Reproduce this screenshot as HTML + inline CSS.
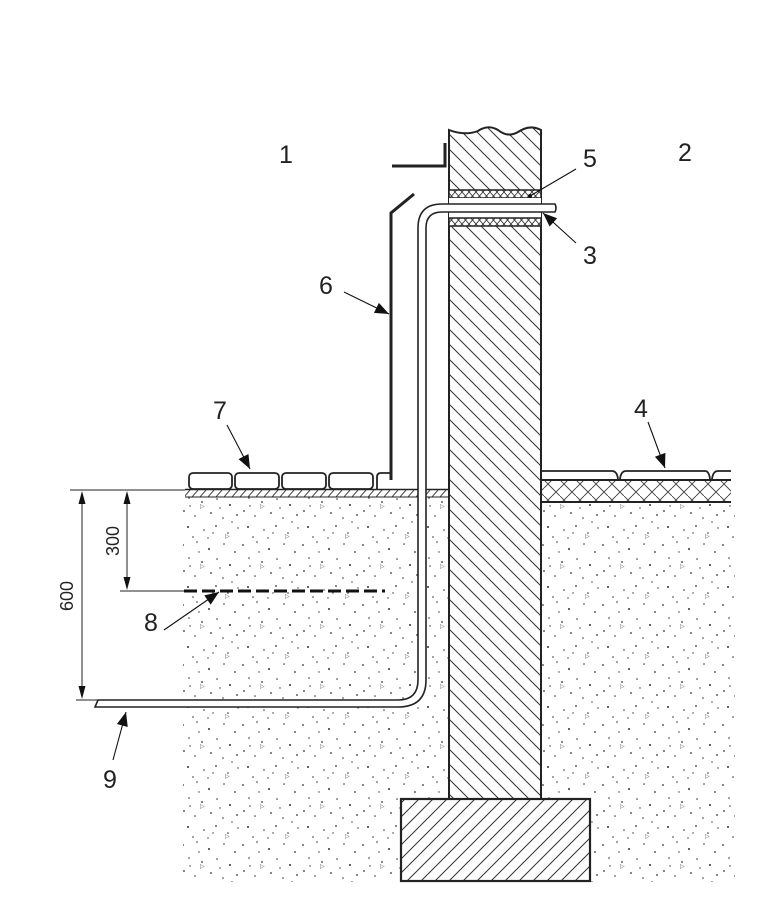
<!DOCTYPE html>
<html><head><meta charset="utf-8"><style>
html,body{margin:0;padding:0;background:#fff;}
svg{display:block;}
text{font-family:"Liberation Sans",sans-serif;fill:#222;}
</style></head><body>
<svg width="780" height="897" viewBox="0 0 780 897" xmlns="http://www.w3.org/2000/svg">
<defs>
<pattern id="wallh" width="15" height="15" patternUnits="userSpaceOnUse">
<path d="M-2,-2 L17,17 M-2,13 L2,17 M13,-2 L17,2" stroke="#333" stroke-width="1"/>
</pattern>
<pattern id="foot" width="14" height="14" patternUnits="userSpaceOnUse">
<path d="M-2,16 L16,-2 M-2,2 L2,-2 M12,16 L16,12" stroke="#333" stroke-width="1"/>
</pattern>
<pattern id="band" width="7" height="8" patternUnits="userSpaceOnUse">
<path d="M0,0 L7,8 M7,0 L0,8" stroke="#333" stroke-width="0.9"/>
</pattern>
<pattern id="grav" width="8" height="7" patternUnits="userSpaceOnUse">
<path d="M0,7 L6,0" stroke="#444" stroke-width="1"/>
</pattern>
<pattern id="herr" width="16" height="16" patternUnits="userSpaceOnUse">
<path d="M0,8 L8,0 M8,16 L16,8 M0,0 L8,8 M8,8 L16,16" stroke="#444" stroke-width="0.9"/>
</pattern>
<pattern id="soil" width="60" height="60" patternUnits="userSpaceOnUse">
<g fill="#333">
<circle cx="3" cy="5" r="0.9"/><circle cx="17" cy="2" r="0.8"/><circle cx="29" cy="9" r="1"/><circle cx="44" cy="4" r="0.8"/><circle cx="55" cy="12" r="0.9"/>
<circle cx="9" cy="18" r="0.8"/><circle cx="22" cy="22" r="0.9"/><circle cx="37" cy="19" r="0.8"/><circle cx="50" cy="25" r="1"/>
<circle cx="4" cy="31" r="0.9"/><circle cx="15" cy="36" r="0.8"/><circle cx="31" cy="33" r="0.9"/><circle cx="43" cy="38" r="0.8"/><circle cx="57" cy="35" r="0.9"/>
<circle cx="8" cy="47" r="1"/><circle cx="24" cy="50" r="0.8"/><circle cx="36" cy="46" r="0.9"/><circle cx="48" cy="53" r="0.8"/><circle cx="58" cy="48" r="0.7"/>
<circle cx="13" cy="57" r="0.8"/><circle cx="28" cy="58" r="0.7"/><circle cx="40" cy="28" r="0.7"/><circle cx="19" cy="12" r="0.7"/>
<circle cx="33" cy="53" r="0.7"/><circle cx="52" cy="42" r="0.7"/><circle cx="10" cy="26" r="0.7"/>
</g>
<text x="20" y="28" font-size="6" style="fill:#555">▷</text>
<text x="45" y="58" font-size="6" style="fill:#555">▷</text>
</pattern>
<marker id="ab" viewBox="0 0 10 10" refX="10" refY="5" markerWidth="16" markerHeight="14" orient="auto" markerUnits="userSpaceOnUse"><path d="M0,1 L10,5 L0,9 z" fill="#111"/></marker>
</defs>

<rect x="183" y="497" width="266" height="385" fill="url(#soil)"/>
<rect x="541" y="502" width="194" height="380" fill="url(#soil)"/>
<rect x="185" y="490" width="264" height="7" fill="url(#grav)"/>
<line x1="185" y1="489.5" x2="449" y2="489.5" stroke="#222" stroke-width="1.5"/>
<line x1="185" y1="497" x2="449" y2="497" stroke="#222" stroke-width="1"/>
<g fill="#fff" stroke="#222" stroke-width="1.8">
<rect x="189" y="473" width="43" height="16" rx="4"/>
<rect x="235" y="473" width="44" height="16" rx="4"/>
<rect x="282" y="473" width="44" height="16" rx="4"/>
<rect x="329" y="473" width="44" height="16" rx="4"/>
<path d="M392,473 L381,473 Q377,473 377,477 L377,489"/>
</g>
<rect x="541" y="480" width="190" height="22" fill="url(#herr)"/>
<line x1="541" y1="480" x2="731" y2="480" stroke="#222" stroke-width="2"/>
<line x1="541" y1="502" x2="731" y2="502" stroke="#222" stroke-width="2"/>
<path d="M541,471 L612,471 Q617,471 618,479 M620,479 Q621,471 626,471 L705,471 Q709,471 710,479 M712,479 Q713,471 718,471 L731,471" fill="none" stroke="#222" stroke-width="1.8"/>
<path d="M449,130 Q465,136 478,131 Q488,124 498,130 Q508,138 518,132 Q530,124 541,130 L541,799 L449,799 Z" fill="#fff"/>
<path d="M449,130 Q465,136 478,131 Q488,124 498,130 Q508,138 518,132 Q530,124 541,130 L541,799 L449,799 Z" fill="url(#wallh)" stroke="#222" stroke-width="2"/>
<rect x="449" y="190" width="92" height="8" fill="#fff"/>
<rect x="449" y="190" width="92" height="8" fill="url(#band)" stroke="#222" stroke-width="1.5"/>
<rect x="449" y="198" width="92" height="20" fill="#fff"/>
<rect x="449" y="218" width="92" height="8" fill="#fff"/>
<rect x="449" y="218" width="92" height="8" fill="url(#band)" stroke="#222" stroke-width="1.5"/>
<rect x="401" y="799" width="189" height="82" fill="#fff"/>
<rect x="401" y="799" width="189" height="82" fill="url(#foot)" stroke="#222" stroke-width="2.2"/>
<path d="M555,204 L442,204 Q418,204 418,228 L418,680 Q418,700 398,700 L98,700 L95,707 L398,707 Q426,707 426,680 L426,228 Q426,212 442,212 L555,212 Q557,208 555,204 Z" fill="#fff" stroke="#222" stroke-width="1.6"/>
<polyline points="391,480 391,213 414,194" fill="none" stroke="#222" stroke-width="3"/>
<polyline points="392,166 445,166 445,143" fill="none" stroke="#222" stroke-width="3"/>
<line x1="184" y1="591" x2="385" y2="591" stroke="#111" stroke-width="3" stroke-dasharray="13,5"/>
<g stroke="#222" stroke-width="1">
<line x1="70" y1="490" x2="185" y2="490"/>
<line x1="120" y1="591" x2="184" y2="591"/>
<line x1="76" y1="700" x2="98" y2="700"/>
<line x1="82" y1="500" x2="82" y2="690"/>
<line x1="127" y1="500" x2="127" y2="581"/>
</g>
<g fill="#111">
<path d="M82,491 L78.5,504 L85.5,504 Z"/><path d="M82,699 L78.5,686 L85.5,686 Z"/>
<path d="M127,491 L123.5,504 L130.5,504 Z"/><path d="M127,590 L123.5,577 L130.5,577 Z"/>
</g>
<text transform="translate(73,596) rotate(-90)" font-size="18" text-anchor="middle">600</text>
<text transform="translate(119,541) rotate(-90)" font-size="18" text-anchor="middle">300</text>
<g stroke="#111" stroke-width="1.1" fill="none">
<line x1="576" y1="169" x2="530" y2="196"/>
<line x1="576" y1="243" x2="543" y2="213" marker-end="url(#ab)"/>
<line x1="344" y1="292" x2="389" y2="314" marker-end="url(#ab)"/>
<line x1="227" y1="425" x2="250" y2="469" marker-end="url(#ab)"/>
<line x1="648" y1="422" x2="665" y2="468" marker-end="url(#ab)"/>
<line x1="164" y1="630" x2="219" y2="592" marker-end="url(#ab)"/>
<line x1="113" y1="760" x2="126" y2="712" marker-end="url(#ab)"/>
</g>
<circle cx="530" cy="196" r="2" fill="#111"/>
<g font-size="25" text-anchor="middle">
<text x="286" y="163">1</text>
<text x="685" y="161">2</text>
<text x="590" y="167">5</text>
<text x="590" y="264">3</text>
<text x="326" y="294">6</text>
<text x="220" y="419">7</text>
<text x="641" y="417">4</text>
<text x="151" y="631">8</text>
<text x="110" y="788">9</text>
</g>
</svg>
</body></html>
